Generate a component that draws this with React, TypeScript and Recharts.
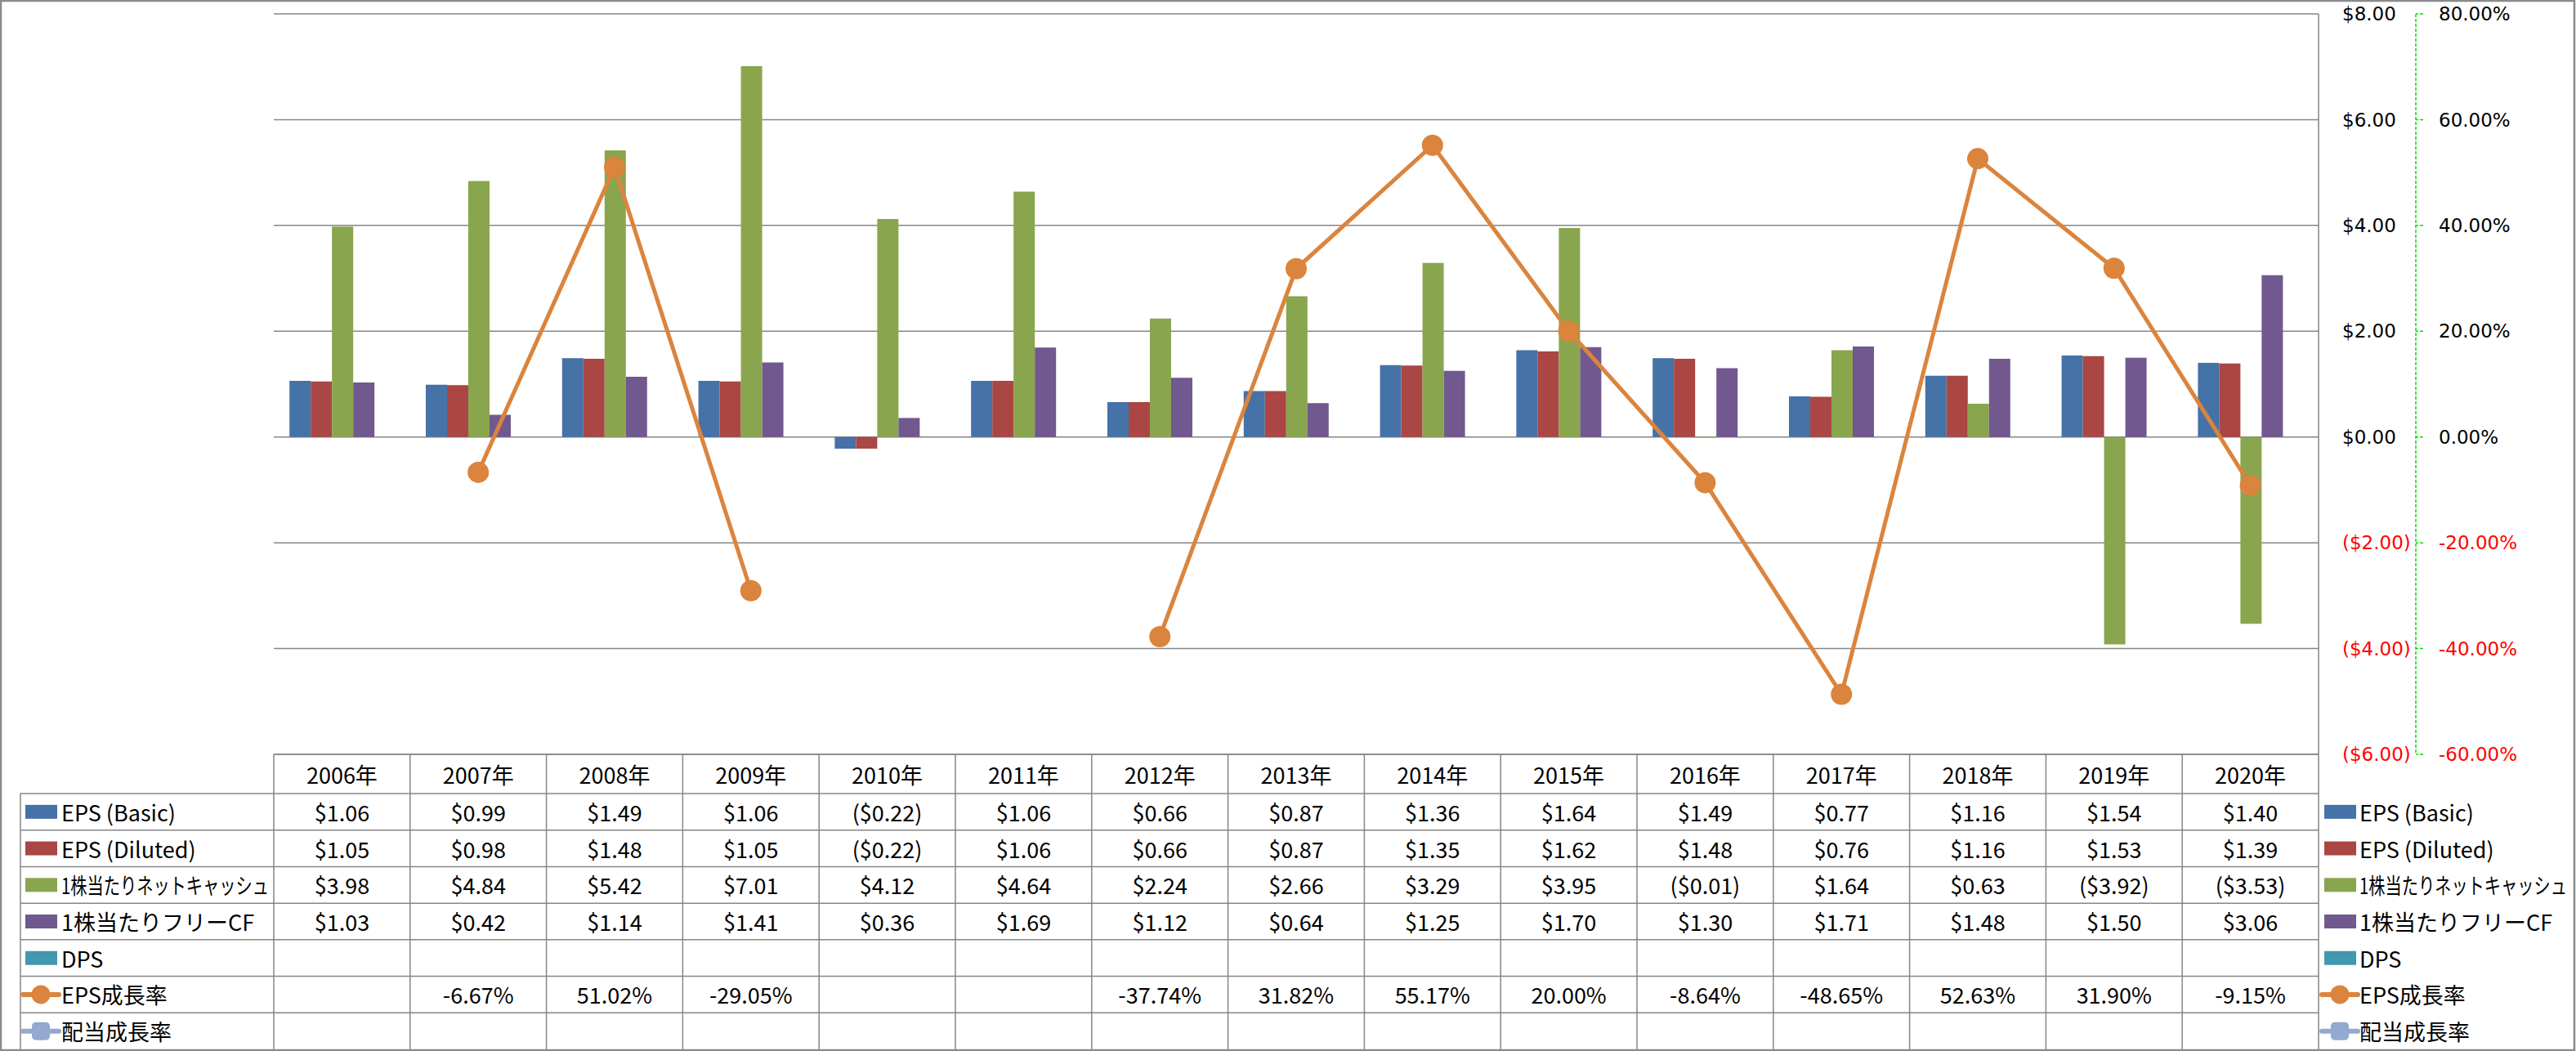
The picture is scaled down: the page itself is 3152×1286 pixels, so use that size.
import React from "react";
import { ComposedChart, Bar, Line, XAxis, YAxis, CartesianGrid } from "recharts";

// values
const years = ["2006年", "2007年", "2008年", "2009年", "2010年", "2011年", "2012年", "2013年", "2014年", "2015年", "2016年", "2017年", "2018年", "2019年", "2020年"];
const epsBasic = [1.06, 0.99, 1.49, 1.06, -0.22, 1.06, 0.66, 0.87, 1.36, 1.64, 1.49, 0.77, 1.16, 1.54, 1.4];
const epsDiluted = [1.05, 0.98, 1.48, 1.05, -0.22, 1.06, 0.66, 0.87, 1.35, 1.62, 1.48, 0.76, 1.16, 1.53, 1.39];
const netCash = [3.98, 4.84, 5.42, 7.01, 4.12, 4.64, 2.24, 2.66, 3.29, 3.95, -0.01, 1.64, 0.63, -3.92, -3.53];
const freeCf = [1.03, 0.42, 1.14, 1.41, 0.36, 1.69, 1.12, 0.64, 1.25, 1.7, 1.3, 1.71, 1.48, 1.5, 3.06];
const dps = [null, null, null, null, null, null, null, null, null, null, null, null, null, null, null];
const epsGrowth = [null, -6.67, 51.02, -29.05, null, null, -37.74, 31.82, 55.17, 20.0, -8.64, -48.65, 52.63, 31.9, -9.15];
const divGrowth = [null, null, null, null, null, null, null, null, null, null, null, null, null, null, null];

const leftTicks = [-6, -4, -2, 0, 2, 4, 6, 8];
const rightTicks = [-60, -40, -20, 0, 20, 40, 60, 80];

// layout (px)
const W = 3152;
const H = 1286;
const PLOT_L = 335;
const PLOT_R = 2837;
const PLOT_B = 923;
const TABLE_L = 25;
const HEAD_B = 971;
const ROW_H = (H - 2 - HEAD_B) / 7;
const COL_W = (PLOT_R - PLOT_L) / years.length;

const GRID = "#868686";
const TABLE_FONT = '"Noto Sans CJK JP", "Noto Sans", sans-serif';
const AXIS_FONT = '"DejaVu Sans", sans-serif';

const money = (v: number | null) =>
  v == null ? "" : v < 0 ? `($${Math.abs(v).toFixed(2)})` : `$${v.toFixed(2)}`;
const pct = (v: number | null) => (v == null ? "" : `${v.toFixed(2)}%`);

const series = [
  { key: "epsBasic", name: "EPS (Basic)", values: epsBasic, kind: "bar", color: "#4572A7", fmt: money },
  { key: "epsDiluted", name: "EPS (Diluted)", values: epsDiluted, kind: "bar", color: "#AA4643", fmt: money },
  { key: "netCash", name: "1株当たりネットキャッシュ", values: netCash, kind: "bar", color: "#89A54E", fmt: money, squeeze: 254 },
  { key: "freeCf", name: "1株当たりフリーCF", values: freeCf, kind: "bar", color: "#71588F", fmt: money },
  { key: "dps", name: "DPS", values: dps, kind: "bar", color: "#4198AF", fmt: money },
  { key: "epsGrowth", name: "EPS成長率", values: epsGrowth, kind: "circle", color: "#DB843D", fmt: pct },
  { key: "divGrowth", name: "配当成長率", values: divGrowth, kind: "square", color: "#93A9CF", fmt: pct },
];

const data = years.map((year, i) => {
  const row: Record<string, any> = { year };
  series.forEach((s) => (row[s.key] = s.values[i]));
  return row;
});

function YearTick(props: any) {
  const { x, y, payload } = props;
  return (
    <text x={x} y={y + 24} textAnchor="middle" dominantBaseline="central" fontFamily={TABLE_FONT} fontSize={27} fill="#000">
      {payload.value}
    </text>
  );
}

function MoneyTick(props: any) {
  const { x, y, payload } = props;
  const v = payload.value as number;
  return (
    <text x={x} y={y} dy="0.355em" textAnchor="start" fontFamily={AXIS_FONT} fontSize={23} fill={v < 0 ? "#ff0000" : "#000"}>
      {money(v)}
    </text>
  );
}

function PctTick(props: any) {
  const { x, y, payload } = props;
  const v = payload.value as number;
  return (
    <text x={x} y={y} dy="0.355em" textAnchor="start" fontFamily={AXIS_FONT} fontSize={23} fill={v < 0 ? "#ff0000" : "#000"}>
      {pct(v)}
    </text>
  );
}

function LegendKey({ kind, color, x, cy }: { kind: string; color: string; x: number; cy: number }) {
  if (kind === "bar") return <rect x={x + 3} y={cy - 8.5} width={39} height={17} fill={color} />;
  return (
    <g>
      <line x1={x} x2={x + 44} y1={cy} y2={cy} stroke={color} strokeWidth={6} strokeLinecap="round" />
      {kind === "circle" ? (
        <circle cx={x + 22} cy={cy} r={11.5} fill={color} />
      ) : (
        <rect x={x + 11} y={cy - 11} width={22} height={22} rx={5} fill={color} />
      )}
    </g>
  );
}

function DataTable() {
  const rowY = (i: number) => HEAD_B + i * ROW_H;
  const bottom = H - 2;
  return (
    <svg width={W} height={H} style={{ position: "absolute", left: 0, top: 0, pointerEvents: "none" }}>
      {/* table grid */}
      <line x1={PLOT_L} x2={PLOT_R} y1={PLOT_B} y2={PLOT_B} stroke={GRID} strokeWidth={1.5} />
      {series.map((_, i) => (
        <line key={i} x1={TABLE_L} x2={PLOT_R} y1={rowY(i)} y2={rowY(i)} stroke={GRID} strokeWidth={1.5} />
      ))}
      <line x1={TABLE_L} x2={TABLE_L} y1={HEAD_B} y2={bottom} stroke={GRID} strokeWidth={1.5} />
      {years.map((_, i) => (
        <line key={i} x1={PLOT_L + i * COL_W} x2={PLOT_L + i * COL_W} y1={PLOT_B} y2={bottom} stroke={GRID} strokeWidth={1.5} />
      ))}
      <line x1={PLOT_R} x2={PLOT_R} y1={PLOT_B} y2={bottom} stroke={GRID} strokeWidth={1.5} />

      {/* row labels + values */}
      {series.map((s, i) => {
        const cy = rowY(i) + ROW_H / 2;
        const fit = s.squeeze ? { textLength: s.squeeze, lengthAdjust: "spacingAndGlyphs" } : {};
        return (
          <g key={s.key} fontFamily={TABLE_FONT} fontSize={27} fill="#000">
            <LegendKey kind={s.kind} color={s.color} x={28} cy={cy} />
            <text x={75} y={cy} dominantBaseline="central" {...fit}>
              {s.name}
            </text>
            {s.values.map((v, j) => (
              <text key={j} x={PLOT_L + (j + 0.5) * COL_W} y={cy} textAnchor="middle" dominantBaseline="central">
                {s.fmt(v)}
              </text>
            ))}
            {/* legend on the right */}
            <LegendKey kind={s.kind} color={s.color} x={2841} cy={cy} />
            <text x={2887} y={cy} dominantBaseline="central" {...fit}>
              {s.name}
            </text>
          </g>
        );
      })}
      <rect x={1} y={1} width={W - 3} height={H - 2} fill="none" stroke="#8a8a8a" strokeWidth={2.5} />
    </svg>
  );
}

export default function App() {
  return (
    <div style={{ position: "absolute", left: 0, top: 0, width: W, height: H, background: "#fff" }}>
      <ComposedChart
        width={W}
        height={H}
        data={data}
        margin={{ top: 17, right: 46, bottom: 315, left: PLOT_L }}
        barCategoryGap="11.5%"
        barGap={0}
      >
        <CartesianGrid vertical={false} stroke={GRID} strokeWidth={1.5} yAxisId="left" />
        <XAxis dataKey="year" height={48} axisLine={false} tickLine={false} tickSize={0} tickMargin={0} interval={0} tick={<YearTick />} />
        <YAxis
          yAxisId="left"
          orientation="right"
          width={119}
          domain={[-6, 8]}
          ticks={leftTicks}
          interval={0}
          axisLine={{ stroke: GRID, strokeWidth: 1.5 }}
          tickLine={false}
          tickSize={6}
          tickMargin={23}
          tick={<MoneyTick />}
        />
        <YAxis
          yAxisId="right"
          orientation="right"
          width={150}
          domain={[-60, 80]}
          ticks={rightTicks}
          interval={0}
          axisLine={{ stroke: "#00e000", strokeDasharray: "4 2", strokeWidth: 1.5 }}
          tickLine={{ stroke: "#00e000", strokeDasharray: "4 2", strokeWidth: 1.5 }}
          tickSize={9}
          tickMargin={19}
          tick={<PctTick />}
        />
        {series
          .filter((s) => s.kind === "bar")
          .map((s) => (
            <Bar key={s.key} yAxisId="left" dataKey={s.key} name={s.name} fill={s.color} isAnimationActive={false} />
          ))}
        <Line
          yAxisId="right"
          dataKey="epsGrowth"
          name="EPS成長率"
          stroke="#DB843D"
          strokeWidth={5}
          dot={{ r: 12, fill: "#DB843D", stroke: "#DB843D", strokeWidth: 2 }}
          activeDot={false}
          connectNulls={false}
          isAnimationActive={false}
        />
        <Line
          yAxisId="right"
          dataKey="divGrowth"
          name="配当成長率"
          stroke="#93A9CF"
          strokeWidth={5}
          dot={false}
          connectNulls={false}
          isAnimationActive={false}
        />
      </ComposedChart>
      <DataTable />
    </div>
  );
}
